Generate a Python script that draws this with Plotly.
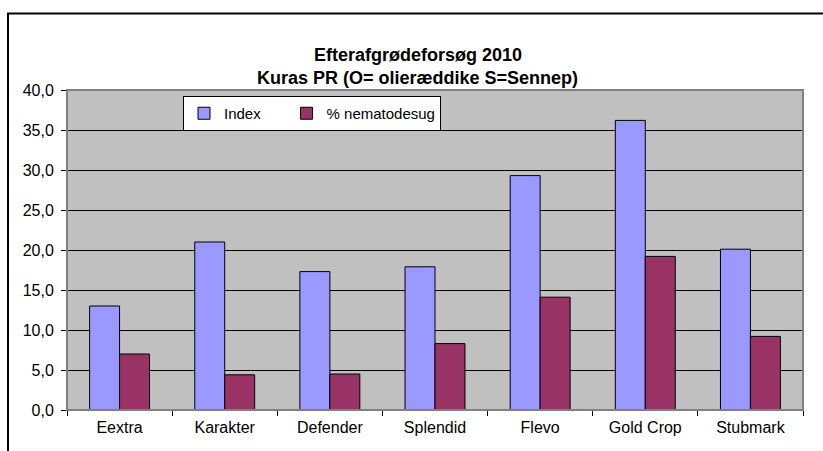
import plotly.graph_objects as go

categories = ["Eextra", "Karakter", "Defender", "Splendid", "Flevo", "Gold Crop", "Stubmark"]
index_vals = [13.0, 21.0, 17.3, 17.9, 29.3, 36.2, 20.1]
nematode_vals = [7.0, 4.4, 4.5, 8.3, 14.1, 19.2, 9.2]
series_names = ["Index", "% nematodesug"]
title_lines = ["Efterafgrødeforsøg 2010", "Kuras PR (O= olieræddike S=Sennep)"]

W, H = 823, 451
# reference-pixel positions of the plot area
L, R, T, B = 67, 803, 90, 410
pw, ph = R - L, B - T

def px(x):
    return (x - L) / pw

def py(y):
    return (B - y) / ph

fig = go.Figure()
fig.add_trace(go.Bar(x=categories, y=index_vals, name=series_names[0] + "\u00a0" * 5,
                     marker=dict(color="#9999FF", line=dict(color="#000000", width=1))))
fig.add_trace(go.Bar(x=categories, y=nematode_vals, name=series_names[1],
                     marker=dict(color="#993366", line=dict(color="#000000", width=1))))

font = "Liberation Sans, Arial, sans-serif"

fig.update_layout(
    width=W, height=H,
    margin=dict(l=L, r=W - R, t=T, b=H - B, autoexpand=False),
    paper_bgcolor="#FFFFFF",
    plot_bgcolor="#C0C0C0",
    separators=",.",
    barmode="group",
    bargap=0.43,
    bargroupgap=0,
    font=dict(family=font, size=16, color="#000000"),
    showlegend=True,
    legend=dict(
        orientation="h",
        x=px(183), y=py(96), xanchor="left", yanchor="top",
        bgcolor="#FFFFFF", bordercolor="#000000", borderwidth=1,
        font=dict(family=font, size=15, color="#000000"),
        itemwidth=30,
        traceorder="normal",
    ),
    xaxis=dict(
        showline=True, linecolor="#000000", linewidth=1,
        ticks="outside", ticklen=5, tickcolor="#000000",
        tickson="boundaries", showgrid=False,
        ticklabelstandoff=3,
        tickfont=dict(family=font, size=16, color="#000000"),
    ),
    yaxis=dict(
        range=[0, 40], dtick=5, tickformat=".1f",
        showline=True, linecolor="#000000", linewidth=1,
        ticks="outside", ticklen=5, tickcolor="#000000",
        showgrid=True, gridcolor="#000000", gridwidth=1,
        zeroline=False,
        ticklabelstandoff=4,
        tickfont=dict(family=font, size=16, color="#000000"),
    ),
)

fig.add_annotation(text="<b>" + title_lines[0] + "</b>", xref="paper", yref="paper",
                   x=px(418), y=py(43), showarrow=False,
                   font=dict(family=font, size=18, color="#000000"))
fig.add_annotation(text="<b>" + title_lines[1] + "</b>", xref="paper", yref="paper",
                   x=px(417), y=py(66), showarrow=False,
                   font=dict(family=font, size=18, color="#000000"))

# plot area border (gray)
fig.add_shape(type="rect", xref="paper", yref="paper", x0=0, x1=1, y0=0, y1=1,
              line=dict(color="#808080", width=2), layer="above")
# outer chart border (left & top visible)
fig.add_shape(type="path", xref="paper", yref="paper",
              path=f"M {px(8)},{py(470)} L {px(8)},{py(13.5)} L {px(840)},{py(13.5)}",
              line=dict(color="#000000", width=2))

fig.write_html("out.html",
               config={"displayModeBar": False},
               post_script="document.body.style.margin='0';"
                           "document.documentElement.style.overflow='hidden';"
                           "document.body.style.overflow='hidden';")
